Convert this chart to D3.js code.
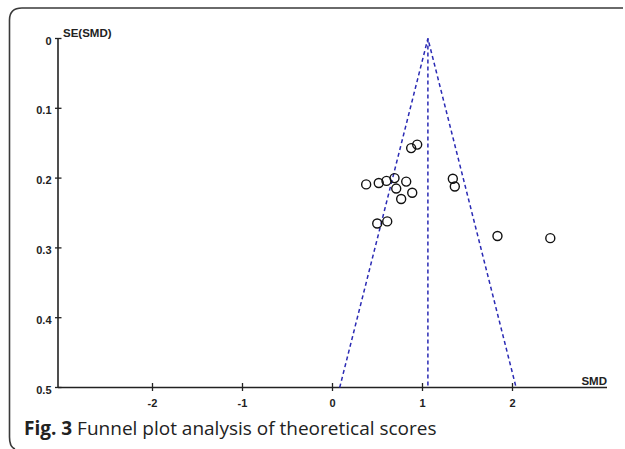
<html>
<head>
</head>
<body style="margin: 0 0 0 0; background: #fff;">
<svg id="plot"></svg>
<script src="https://cdnjs.cloudflare.com/ajax/libs/d3/7.8.5/d3.min.js"></script>
<script type="text/javascript">

// study estimates
var smd = [0.874, 0.941, 0.374, 0.514, 0.600, 0.689, 0.819, 0.708, 0.886, 0.763, 1.337, 1.359, 0.497, 0.608, 1.833, 2.420]
var se  = [0.157, 0.152, 0.209, 0.207, 0.204, 0.200, 0.205, 0.215, 0.221, 0.230, 0.201, 0.212, 0.265, 0.262, 0.283, 0.286]

var pooled = 1.06
var xTicks = [-2, -1, 0, 1, 2]
var yTicks = [0, 0.1, 0.2, 0.3, 0.4, 0.5]
var caption = "Funnel plot analysis of theoretical scores"

var svg = d3.select(document.getElementById("plot"))
.attr("width", 625)
.attr("height", 449)

var x = d3.scaleLinear().domain([-3.05, 3.05]).range([58, 607])
var y = d3.scaleLinear().domain([0, 0.5]).range([38.5, 387.5])

// frame round the figure (open on the right and bottom)
svg.append("path")
.attr("d", "M623,8 L22,8 Q9.5,8 9.5,20 L9.5,437 Q9.5,447 15,449")
.attr("fill", "none")
.attr("stroke", "#3a3a3a")
.attr("stroke-width", 1.6)

var labelFont = "'Liberation Sans', Arial, sans-serif"

// y axis
svg.append("line")
.attr("x1", x(-3.05)).attr("x2", x(-3.05))
.attr("y1", y(0)).attr("y2", y(0.5))
.attr("stroke", "#222").attr("stroke-width", 1.6)

var yt = svg.append("g")
yt.selectAll("line").data(yTicks).enter().append("line")
.attr("x1", x(-3.05) - 3).attr("x2", x(-3.05) + 3.5)
.attr("y1", function(d) { return y(d) }).attr("y2", function(d) { return y(d) })
.attr("stroke", "#222").attr("stroke-width", 1.3)
yt.selectAll("text").data(yTicks).enter().append("text")
.attr("x", x(-3.05) - 6.5)
.attr("y", function(d) { return y(d) + 6 })
.attr("text-anchor", "end")
.attr("font-family", labelFont).attr("font-size", 11).attr("font-weight", "bold")
.attr("fill", "#222")
.text(function(d) { return d3.format("")(d) })

svg.append("text")
.attr("x", 63).attr("y", 36.5)
.attr("font-family", labelFont).attr("font-size", 11.5).attr("font-weight", "bold")
.attr("fill", "#222")
.text("SE(SMD)")

// x axis
svg.append("line")
.attr("x1", x(-3.05)).attr("x2", x(3.05))
.attr("y1", y(0.5)).attr("y2", y(0.5))
.attr("stroke", "#222").attr("stroke-width", 1.6)

var xt = svg.append("g")
xt.selectAll("line").data(xTicks).enter().append("line")
.attr("x1", function(d) { return x(d) }).attr("x2", function(d) { return x(d) })
.attr("y1", y(0.5) - 4.5).attr("y2", y(0.5) + 3.5)
.attr("stroke", "#222").attr("stroke-width", 1.3)
xt.selectAll("text").data(xTicks).enter().append("text")
.attr("x", function(d) { return x(d) })
.attr("y", y(0.5) + 19)
.attr("text-anchor", "middle")
.attr("font-family", labelFont).attr("font-size", 11).attr("font-weight", "bold")
.attr("fill", "#222")
.text(function(d) { return d })

svg.append("text")
.attr("x", x(3.05)).attr("y", y(0.5) - 3)
.attr("text-anchor", "end")
.attr("font-family", labelFont).attr("font-size", 11.5).attr("font-weight", "bold")
.attr("fill", "#222")
.text("SMD")

// funnel: pooled estimate +/- 1.96 SE
var dash = { "stroke": "#2a2ab4", "stroke-width": 1.5, "stroke-dasharray": "4,3", "fill": "none" }
var funnel = [
  [[pooled - 1.96 * 0.5, 0.5], [pooled, 0], [pooled + 1.96 * 0.5, 0.5]],
  [[pooled, 0], [pooled, 0.5]]
]
var line = d3.line().x(function(d) { return x(d[0]) }).y(function(d) { return y(d[1]) })
svg.selectAll("path.funnel").data(funnel).enter().append("path")
.attr("class", "funnel")
.attr("d", line)
.each(function() { var p = d3.select(this); for (var k in dash) p.attr(k, dash[k]) })

// studies
svg.selectAll("circle").data(smd).enter().append("circle")
.attr("cx", function(d) { return x(d) })
.attr("cy", function(d, i) { return y(se[i]) })
.attr("r", 4.5)
.attr("fill", "none")
.attr("stroke", "#111")
.attr("stroke-width", 1.4)

// caption
var cap = svg.append("text")
.attr("x", 24).attr("y", 435)
.attr("font-family", "'Open Sans', sans-serif").attr("font-size", 19)
.attr("fill", "#222")
cap.append("tspan").attr("font-weight", "bold").text("Fig. 3")
cap.append("tspan").text(" " + caption)

</script>
</body>
</html>
